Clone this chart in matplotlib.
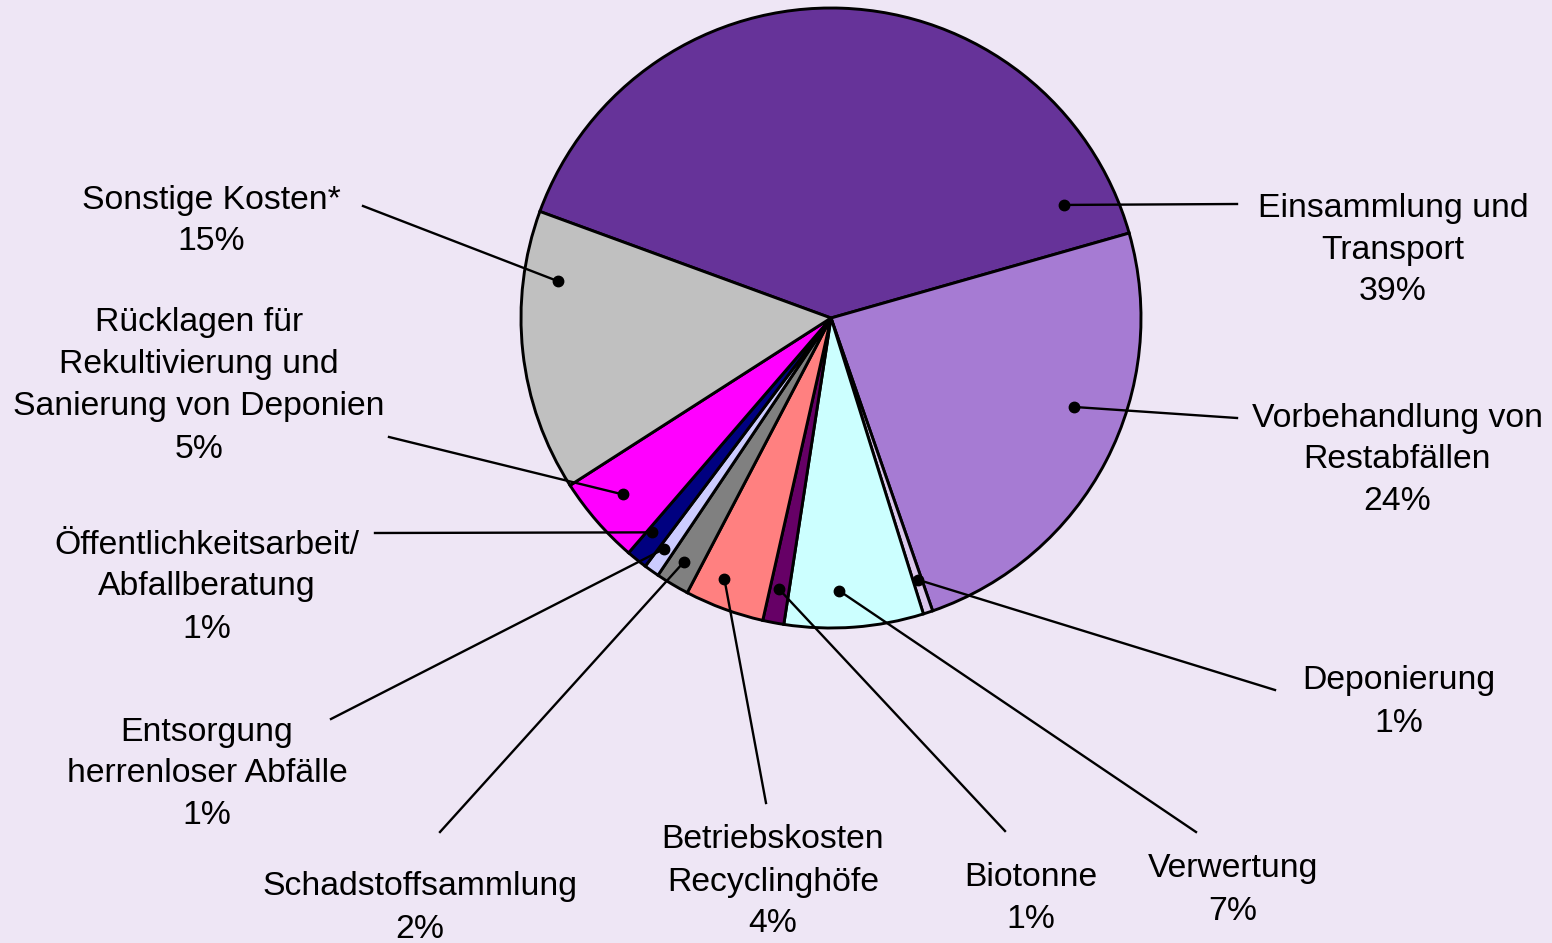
import numpy as np
import matplotlib
matplotlib.use("Agg")
import matplotlib.pyplot as plt

plt.rcParams["font.family"] = ["Liberation Sans", "DejaVu Sans"]

# ── data (shares) ──────────────────────────────────────────────────
labels = [
    "Einsammlung und\nTransport",
    "Vorbehandlung von\nRestabfällen",
    "Deponierung",
    "Verwertung",
    "Biotonne",
    "Betriebskosten\nRecyclinghöfe",
    "Schadstoffsammlung",
    "Entsorgung\nherrenloser Abfälle",
    "Öffentlichkeitsarbeit/\nAbfallberatung",
    "Rücklagen für\nRekultivierung und\nSanierung von Deponien",
    "Sonstige Kosten*",
]
shares = [40.0, 24.1, 0.5, 7.25, 1.1, 4.14, 1.75, 0.8, 1.1, 4.6, 14.66]
pct_text = ["39%", "24%", "1%", "7%", "1%", "4%", "2%", "1%", "1%", "5%", "15%"]
colors = ["#663399", "#A67BD3", "#DCC8EC", "#CCFFFF", "#660066", "#FF8080",
          "#808080", "#CCCCFF", "#000080", "#FF00FF", "#C0C0C0"]

# ── layout (pixel units, y up) ─────────────────────────────────────
W, H = 1552, 943
CX, CY, R = 831, H - 318, 310
START = 159.9

# dot inside each wedge: (angle in deg, radius fraction)
dots = [(25.9, 0.835), (-20.1, 0.835), (-71.6, 0.89), (-88.3, 0.88),
        (-100.9, 0.89), (-112.2, 0.91), (-121.1, 0.92), (-125.9, 0.92),
        (-129.8, 0.90), (-139.7, 0.88), (172.3, 0.89)]
# leader line end points
ends = [(1237, 204), (1237, 418), (1275, 690), (1196, 832), (1005, 831),
        (766, 803), (440, 832), (331, 719), (375, 533), (389, 437), (363, 206)]
# label block centres (x, y of first line)
text_pos = [(1393, 208), (1397, 418), (1399, 681), (1233, 869), (1031, 877),
            (773, 840), (420, 887), (207, 732), (207, 545), (199, 323), (211, 200)]
LINE_H = 42

BG = "#EEE6F5"
fig = plt.figure(figsize=(W / 100, H / 100), dpi=100, facecolor=BG)
ax = fig.add_axes([0, 0, 1, 1])
ax.set_facecolor(BG)

ax.pie(shares, colors=colors, startangle=START, counterclock=False,
       center=(CX, CY), radius=R, frame=True,
       wedgeprops=dict(edgecolor="black", linewidth=2.1))

for (ang, rf), (ex, ey), (tx, ty), lab, pct in zip(dots, ends, text_pos, labels, pct_text):
    dx = CX + R * rf * np.cos(np.radians(ang))
    dy = CY + R * rf * np.sin(np.radians(ang))
    ax.plot([dx, ex], [dy, H - ey], color="black", lw=1.7, zorder=5)
    ax.plot(dx, dy, "o", color="black", ms=7.5, zorder=6)
    lines = lab.split("\n") + [pct]
    for i, line in enumerate(lines):
        ax.text(tx, H - (ty + i * LINE_H), line, ha="center", va="center",
                fontsize=24.3, color="black")

ax.set_xlim(0, W)
ax.set_ylim(0, H)
ax.set_aspect("equal")
ax.axis("off")

fig.savefig("out.png", dpi=100, facecolor=BG)
